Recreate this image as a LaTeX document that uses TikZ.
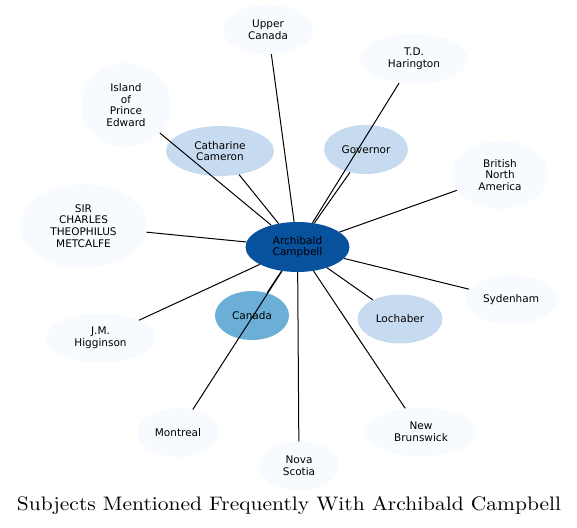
\documentclass[tikz,border=0pt]{standalone}
\usepackage{fontspec}
\newfontfamily\nodefont{DejaVu Sans}
\usetikzlibrary{shapes.geometric}

\definecolor{blueD}{HTML}{08519C}
\definecolor{blueM}{HTML}{6BAED6}
\definecolor{blueL}{HTML}{C6DBEF}
\definecolor{blueXL}{HTML}{F7FBFF}

\begin{document}
\begin{tikzpicture}[x=1pt,y=1pt,every node/.style={font=\nodefont\fontsize{10.5}{11.7}\selectfont,align=center},
    subj/.style={ellipse,inner sep=0pt,minimum width=#1},
    lvl0/.style={fill=blueXL},lvl1/.style={fill=blueL},lvl2/.style={fill=blueM},lvl3/.style={fill=blueD},
    every edge/.style={draw,black,line width=1pt}]
    \useasboundingbox (0,0) rectangle (577,527);
    \node[subj=104pt,minimum height=50pt,lvl3] (0) at (297.5,280) {Archibald\\Campbell};
    \node[subj=90pt,minimum height=49pt,lvl0] (1) at (268,497.5) {Upper\\Canada};
    \node[subj=108pt,minimum height=50pt,lvl0] (2) at (414,468) {T.D.\\Harington};
    \node[subj=90pt,minimum height=84pt,lvl0] (3) at (126,422) {Island\\of\\Prince\\Edward};
    \node[subj=108pt,minimum height=50pt,lvl1] (4) at (220,376) {Catharine\\Cameron};
    \node[subj=84pt,minimum height=49pt,lvl1] (5) at (366,377.5) {Governor};
    \node[subj=96pt,minimum height=68pt,lvl0] (6) at (500,352) {British\\North\\America};
    \node[subj=127pt,minimum height=84pt,lvl0] (7) at (83.5,301) {SIR\\CHARLES\\THEOPHILUS\\METCALFE};
    \node[subj=92pt,minimum height=49pt,lvl0] (8) at (511,227.5) {Sydenham};
    \node[subj=74pt,minimum height=49pt,lvl2] (9) at (252,211.5) {Canada};
    \node[subj=85pt,minimum height=49pt,lvl1] (10) at (400,208) {Lochaber};
    \node[subj=110pt,minimum height=49pt,lvl0] (11) at (100.5,189) {J.M.\\Higginson};
    \node[subj=81pt,minimum height=49pt,lvl0] (12) at (178,94.5) {Montreal};
    \node[subj=80pt,minimum height=49pt,lvl0] (13) at (299,61) {Nova\\Scotia};
    \node[subj=110pt,minimum height=49pt,lvl0] (14) at (421,95) {New\\Brunswick};
    \node[anchor=base,inner sep=0pt,font=\rmfamily\fontsize{10}{12}\selectfont] (15) at (289,17)
        {\resizebox{544pt}{14pt}{Subjects Mentioned Frequently With Archibald Campbell}};

    \draw (0) edge (1)
          (0) edge (2)
          (0) edge (3)
          (0) edge (4)
          (0) edge (5)
          (0) edge (6)
          (0) edge (7)
          (0) edge (8)
          (0) edge (9)
          (0) edge (10)
          (0) edge (11)
          (0) edge (12)
          (0) edge (13)
          (0) edge (14)
          ;
\end{tikzpicture}
\end{document}
